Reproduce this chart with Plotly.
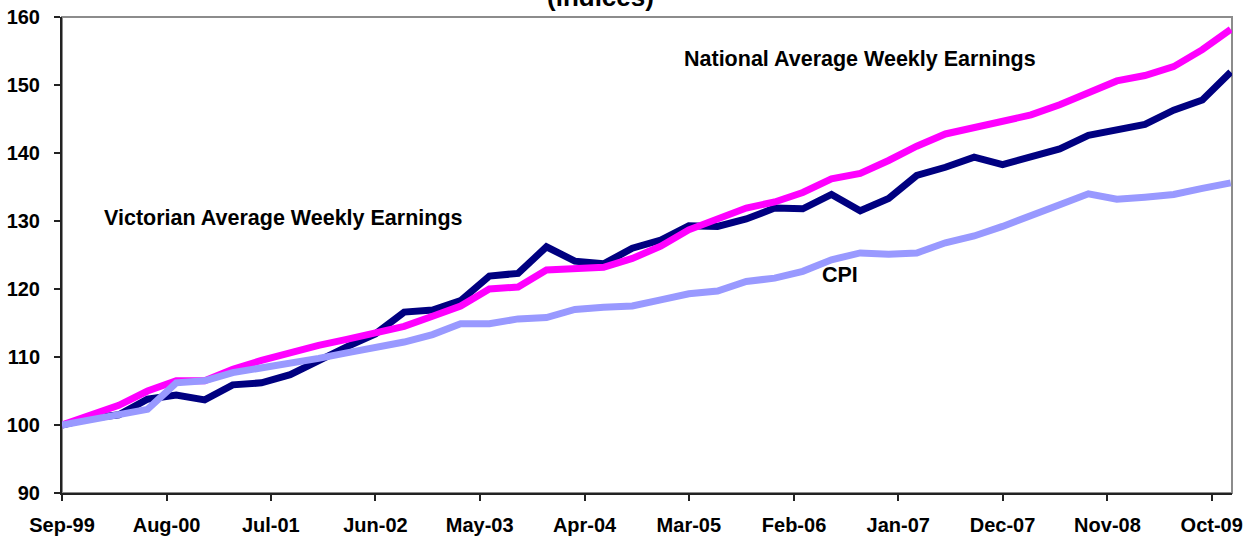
import plotly.graph_objects as go
import pandas as pd

dates = pd.date_range("1999-09-01", "2009-12-01", freq="3MS")

victorian = [100, 101, 101.5, 103.8, 104.4, 103.7, 105.9, 106.2, 107.4, 109.6,
             111.5, 113.4, 116.6, 116.9, 118.3, 121.9, 122.3, 126.2, 124.1, 123.7,
             126.0, 127.2, 129.3, 129.2, 130.3, 131.9, 131.8, 133.9, 131.5, 133.3,
             136.7, 137.9, 139.4, 138.3, 139.4, 140.6, 142.6, 143.4, 144.2, 146.3,
             147.8, 151.9]
national = [100, 101.5, 102.9, 105.0, 106.5, 106.5, 108.2, 109.5, 110.7, 111.7,
            112.6, 113.5, 114.5, 116.0, 117.5, 120.0, 120.3, 122.8, 123.1, 123.2,
            124.5, 126.3, 128.7, 130.3, 131.9, 132.8, 134.2, 136.2, 137.0, 138.9,
            141.0, 142.8, 143.8, 144.6, 145.6, 147.1, 148.9, 150.6, 151.4, 152.7,
            155.2, 158.2]
cpi = [100, 100.7, 101.6, 102.3, 106.2, 106.5, 107.7, 108.4, 108.9, 109.8,
       110.6, 111.4, 112.2, 113.3, 114.9, 114.9, 115.6, 115.8, 117.0, 117.3,
       117.5, 118.4, 119.3, 119.7, 121.1, 121.6, 122.6, 124.3, 125.3, 125.1,
       125.3, 126.8, 127.8, 129.2, 130.9, 132.4, 134.0, 133.2, 133.5, 133.9,
       134.8, 135.6]

tick_dates = pd.date_range("1999-09-01", "2009-10-01", freq="11MS")
tick_labels = [d.strftime("%b-%y") for d in tick_dates]

font = "Liberation Sans, Arial, sans-serif"

fig = go.Figure()
fig.add_trace(go.Scatter(x=dates, y=victorian, mode="lines", name="Victorian Average Weekly Earnings",
                         line=dict(color="#000080", width=7)))
fig.add_trace(go.Scatter(x=dates, y=national, mode="lines", name="National Average Weekly Earnings",
                         line=dict(color="#FF00FF", width=7)))
fig.add_trace(go.Scatter(x=dates, y=cpi, mode="lines", name="CPI",
                         line=dict(color="#9999FF", width=7)))

fig.update_layout(
    width=1255, height=540,
    margin=dict(l=62, r=23, t=17, b=47, pad=0),
    plot_bgcolor="white", paper_bgcolor="white",
    showlegend=False,
    font=dict(family=font, size=18, color="black"),
)
fig.add_shape(type="rect", xref="paper", yref="paper", x0=0, x1=1, y0=0, y1=1,
              line=dict(color="#8c8c8c", width=2), layer="below")

fig.update_xaxes(
    type="date", range=[dates[0], pd.Timestamp("2009-12-05")],
    tickvals=tick_dates, ticktext=tick_labels,
    showgrid=False, zeroline=False, automargin=False,
    showline=True, linecolor="#222222", linewidth=2,
    ticks="outside", ticklen=6, tickwidth=1.5, tickcolor="#222222",
    tickfont=dict(family=font, size=20, color="black", weight="bold"),
    ticklabelstandoff=7,
)
fig.update_yaxes(
    range=[90, 160], tickvals=[90, 100, 110, 120, 130, 140, 150, 160],
    showgrid=False, zeroline=False, automargin=False,
    showline=True, linecolor="#222222", linewidth=2,
    ticks="outside", ticklen=6, tickwidth=1.5, tickcolor="#222222",
    tickfont=dict(family=font, size=20, color="black", weight="bold"),
    ticklabelstandoff=10,
)

fig.add_annotation(text="<b>(indices)</b>", xref="paper", yref="paper", x=(600 - 62) / 1170, y=1,
                   xanchor="center", yanchor="middle", yshift=20, showarrow=False,
                   font=dict(family=font, size=26, color="black"))
fig.add_annotation(text="<b>National Average Weekly Earnings</b>", xref="paper", yref="paper",
                   x=(860 - 62) / 1170, y=(493 - 59) / 476, xanchor="center", yanchor="middle",
                   showarrow=False, font=dict(family=font, size=21.5, color="black"))
fig.add_annotation(text="<b>Victorian Average Weekly Earnings</b>", xref="paper", yref="paper",
                   x=(283 - 62) / 1170, y=(493 - 218) / 476, xanchor="center", yanchor="middle",
                   showarrow=False, font=dict(family=font, size=21.5, color="black"))
fig.add_annotation(text="<b>CPI</b>", xref="paper", yref="paper",
                   x=(840 - 62) / 1170, y=(493 - 275) / 476, xanchor="center", yanchor="middle",
                   showarrow=False, font=dict(family=font, size=21.5, color="black"))

fig.write_html("out.html", config={"displayModeBar": False},
               post_script="document.body.style.margin='0';document.body.style.overflow='hidden';")
